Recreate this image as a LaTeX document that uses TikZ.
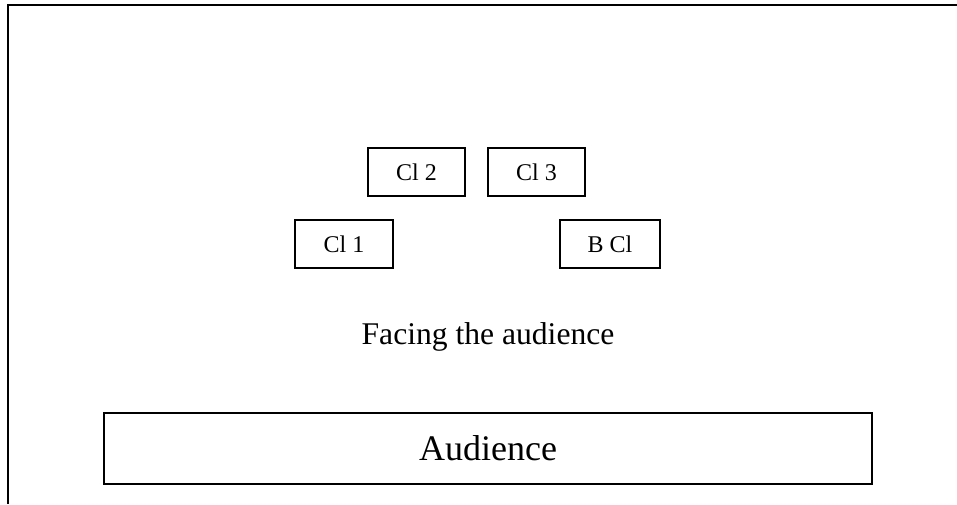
\documentclass[tikz,border=0pt]{standalone}
\usepackage{fontspec}
\setmainfont{Liberation Serif}
\begin{document}
\begin{tikzpicture}[x=1pt,y=-1pt,
  seat/.style={draw=black,line width=1.3pt,minimum height=48pt,inner sep=0pt,font=\fontsize{24}{28}\selectfont},
  audbox/.style={draw=black,line width=1.5pt,minimum width=768pt,minimum height=71pt,inner sep=0pt,font=\fontsize{36}{40}\selectfont},
  frame/.style={draw=black,line width=2pt}]
\useasboundingbox (0,0) rectangle (957,504);
\coordinate (tl) at (8,4.5);
\coordinate (tr) at (957,4.5);
\coordinate (bl) at (8,504);
\draw[frame] (tr) -- (tl) -- (bl);
\node[seat,minimum width=97pt] (cl2) at (416.5,172) {Cl 2};
\node[seat,minimum width=97pt] (cl3) at (536.5,172) {Cl 3};
\node[seat,minimum width=98pt] (cl1) at (344,244) {Cl 1};
\node[seat,minimum width=100pt] (bcl) at (610,244) {B Cl};
\node[anchor=base,inner sep=0pt,font=\fontsize{31.6}{36}\selectfont] (facing) at (488,344) {Facing the audience};
\node[audbox] (aud) at (488,448.5) {Audience};
\end{tikzpicture}
\end{document}
